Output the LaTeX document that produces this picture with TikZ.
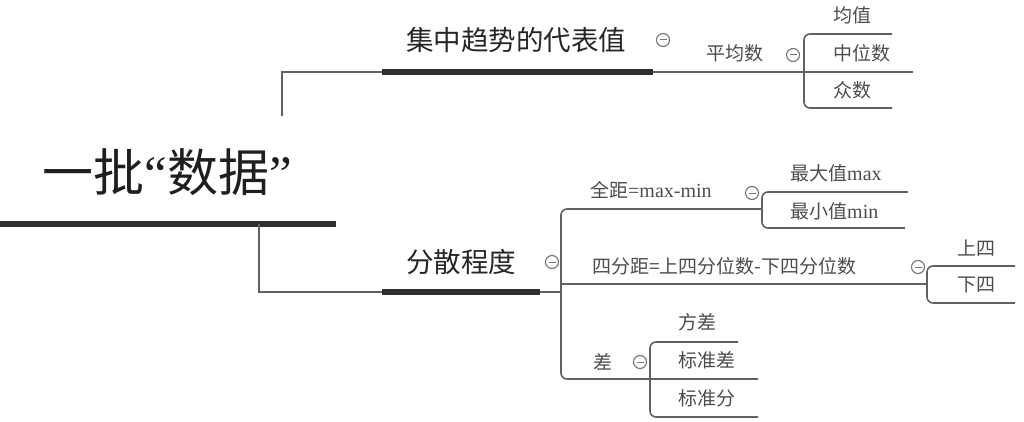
\documentclass[tikz,border=0pt]{standalone}
\usepackage{fontspec}
\setmainfont{Liberation Serif}
\newfontfamily\cjk{Noto Sans CJK SC}
\begin{document}
\begin{tikzpicture}[x=1pt,y=-1pt,
  twig/.style={draw=black!62, line width=1.6pt},
  trunk/.style={draw=black!82, line width=5.5pt},
  lab/.style={text=black!70, font=\cjk\fontsize{19}{19}\selectfont, inner sep=0pt, anchor=west},
  topic/.style={text=black!85, font=\cjk\fontsize{27.5}{27.5}\selectfont, inner sep=0pt},
  collapse/.style={circle, draw=black!55, line width=1.1pt, minimum size=13pt, inner sep=0pt,
    path picture={\draw[black!55,line width=1pt] ([xshift=3.5pt]path picture bounding box.center)--([xshift=-3.5pt]path picture bounding box.center);}},
  bracket/.style={twig, rounded corners=6pt}]
\useasboundingbox (0,0) rectangle (1024,422);

% root
\node[text=black!88, font=\fontsize{51}{51}\selectfont, inner sep=0pt] (root) at (167,172) {{\cjk 一批}“{\cjk 数据}”};
\coordinate (r0) at (0,224);
\coordinate (r1) at (336,224);
\draw[trunk] (r0) -- (r1);

% upper topic
\coordinate (u0) at (282,116);
\coordinate (u1) at (382,72);
\coordinate (u2) at (653,72);
\coordinate (u3) at (913,72);
\draw[twig] (u0) |- (u1);
\draw[trunk] (u1) -- (u2);
\draw[twig] (u2) -- (u3);
\node[topic] (t1) at (516,40) {集中趋势的代表值};
\node[collapse] (c1) at (663,40) {};
\node[lab, anchor=center] (pj) at (735,53) {平均数};
\node[collapse] (c2) at (793,55) {};
\coordinate (b1a) at (892,34);
\coordinate (b1b) at (892,108);
\draw[bracket] (b1a) -- (804,34) -- (804,108) -- (b1b);
\node[lab] (jz) at (833,15) {均值};
\node[lab] (zw) at (833,53) {中位数};
\node[lab] (zs) at (833,90) {众数};

% lower topic
\coordinate (l0) at (259,224);
\coordinate (l1) at (382,292);
\coordinate (l2) at (540,292);
\coordinate (l3) at (561,292);
\draw[twig] (l0) |- (l1);
\draw[trunk] (l1) -- (l2);
\draw[twig] (l2) -- (l3);
\node[topic] (t2) at (461,262) {分散程度};
\node[collapse] (c3) at (552,262) {};

\coordinate (qj) at (762,209);
\coordinate (cz) at (758,379);
\draw[twig, rounded corners=6pt] (qj) -- (561,209) -- (561,379) -- (cz);
\coordinate (sf0) at (561,284);
\coordinate (sf1) at (927,284);
\draw[twig] (sf0) -- (sf1);

\node[lab] (qjt) at (590,190) {{\cjk 全距}\fontspec{Liberation Serif}\fontsize{20}{20}\selectfont =max-min};
\node[collapse] (c4) at (752,193) {};
\draw[bracket] (908,192) -- (762,192) -- (762,228) -- (905,228);
\node[lab] (max) at (790,173) {最大值\fontspec{Liberation Serif}\fontsize{20}{20}\selectfont max};
\node[lab] (min) at (790,211) {最小值\fontspec{Liberation Serif}\fontsize{20}{20}\selectfont min};

\node[lab] (sft) at (592,266) {四分距=上四分位数-下四分位数};
\node[collapse] (c5) at (918,267) {};
\draw[bracket] (1015,266) -- (927,266) -- (927,303) -- (1015,303);
\node[lab] (ss) at (957,248) {上四};
\node[lab] (xs) at (957,285) {下四};

\node[lab] (cha) at (593,362) {差};
\node[collapse] (c6) at (640,362) {};
\draw[bracket] (738,342) -- (650,342) -- (650,417) -- (758,417);
\node[lab] (fc) at (678,322) {方差};
\node[lab] (bzc) at (678,360) {标准差};
\node[lab] (bzf) at (678,398) {标准分};
\end{tikzpicture}
\end{document}
